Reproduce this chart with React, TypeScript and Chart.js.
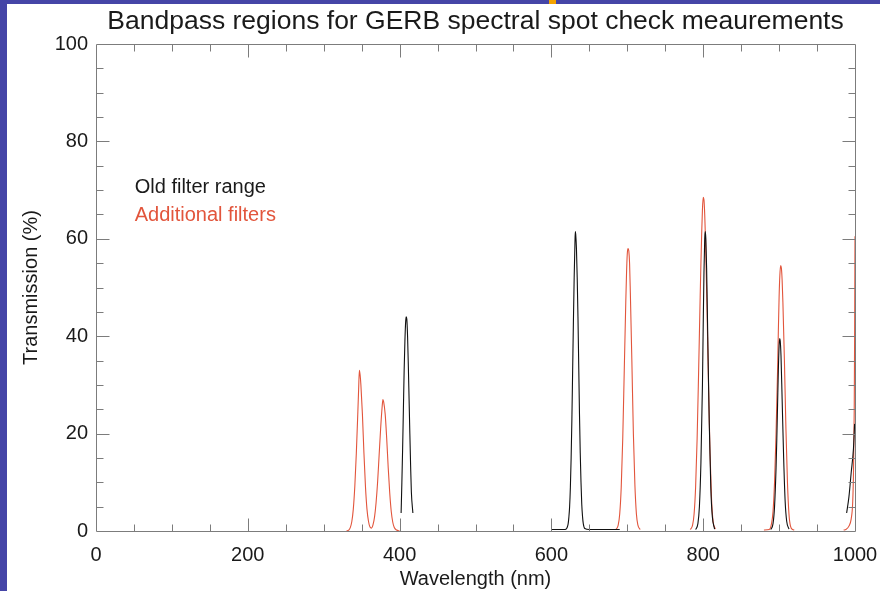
import React, { useEffect, useRef } from "react";
import { Chart, registerables } from "chart.js";

Chart.register(...registerables);

const TITLE = "Bandpass regions for GERB spectral spot check meaurements";
const X_TITLE = "Wavelength (nm)";
const Y_TITLE = "Transmission (%)";
const X_TICKS = [0, 200, 400, 600, 800, 1000];
const Y_TICKS = [0, 20, 40, 60, 80, 100];
const X_MINOR_STEP = 50;
const Y_MINOR_STEP = 5;
const LEGEND_OLD = "Old filter range";
const LEGEND_ADD = "Additional filters";
const LEGEND_X = 51;
const LEGEND_OLD_Y = 70.6;
const LEGEND_ADD_Y = 64.7;

// ---- Old filter range (black) ----
const old410X = [402, 403, 404, 405, 406, 407, 408, 408.7, 409.5, 410.5, 411.5, 412.5, 413.5, 414.5, 415.5, 417.5];
const old410Y = [3.7, 10, 17, 25, 33, 39, 43, 44, 43.5, 40, 34, 27, 20, 13.5, 8, 3.7];

const old630X = [600, 618, 620, 622, 623, 624, 625, 626, 627, 628, 629, 630, 631, 631.5, 632, 633, 634, 635, 636, 637, 638, 639, 640, 641, 642, 644, 650, 690];
const old630Y = [0.3, 0.3, 0.5, 1.4, 2.8, 5, 9, 15, 23, 33, 43, 52, 59, 61.5, 61, 58, 52, 44, 34, 24, 16, 10, 5.5, 3, 1.5, 0.5, 0.3, 0.3];

const old800X = [790, 793, 795, 797, 799, 800, 801, 802, 802.7, 803.5, 804.5, 806, 808, 810, 812, 815];
const old800Y = [0.3, 1.5, 5, 14, 30, 42, 53, 60, 61.5, 60, 54, 40, 22, 9, 3, 0.4];

const old900X = [889, 892, 894, 896, 897, 898, 899, 900, 900.8, 901.5, 902.5, 904, 906, 908, 910, 913];
const old900Y = [0.3, 1.5, 5, 13, 19, 26, 33, 38, 39.5, 39, 36, 27, 15, 6, 2, 0.4];

const old1000X = [989, 992, 995, 998, 999.5];
const old1000Y = [3.7, 7, 12, 17, 22];

// ---- Additional filters (red) ----
const add350X = [330, 333, 335, 337, 339, 341, 343, 345, 346, 347, 348, 349, 351, 353, 355, 357, 359, 361, 363, 365, 367, 369, 371, 373, 375, 377, 378, 379, 381, 383, 385, 387, 389, 391, 393, 396, 400];
const add350Y = [0, 0.2, 0.7, 1.9, 4.5, 9.2, 16, 24.5, 29, 33, 32, 30, 24, 16, 9.2, 4.5, 2, 0.8, 0.6, 1.3, 2.9, 5.8, 10, 15.5, 21, 25.5, 27, 26.5, 24, 19, 13, 7.8, 4, 1.8, 0.7, 0.2, 0];

const add700X = [685, 688, 690, 692, 694, 696, 698, 699, 700, 701, 702, 703, 704, 706, 708, 710, 712, 714, 717];
const add700Y = [0.3, 1.2, 3.5, 9, 19, 33, 47, 53, 57, 58, 57.5, 55, 49, 35, 20, 9.5, 3.5, 1.2, 0.3];

const add800X = [783, 786, 788, 790, 792, 794, 796, 797, 798, 799, 800, 801, 802, 803, 805, 807, 809, 811, 813, 816];
const add800Y = [0.3, 1.2, 3.5, 9, 19, 33, 48, 55, 61, 66, 68.5, 68, 65, 60, 46, 30, 16, 6.5, 2, 0.4];

const add900X = [880, 887, 890, 892, 894, 896, 898, 899, 900, 901, 902, 903, 904, 905, 907, 909, 911, 913, 915, 918, 920];
const add900Y = [0.2, 0.3, 1.5, 4, 10, 20, 33, 41, 48, 52.5, 54.5, 54, 51.5, 47, 35, 21, 10, 3.5, 1, 0.3, 0.2];

const add1000X = [985, 988, 992, 995, 997, 998, 999, 999.5, 1000];
const add1000Y = [0.2, 0.3, 1, 2.5, 6, 12, 25, 40, 60.5];

const BLACK = "#111111";
const RED = "#e2553c";
const AXIS_COLOR = "#7c7c7c";
const TEXT_COLOR = "#1a1a1a";
const FONT = "'Liberation Sans', Arial, Helvetica, sans-serif";

const pts = (xs: number[], ys: number[]) => xs.map((x, i) => ({ x, y: ys[i] }));

const line = (xs: number[], ys: number[], color: string) => ({
  data: pts(xs, ys),
  borderColor: color,
  backgroundColor: color,
  borderWidth: 1.1,
  pointRadius: 0,
  fill: false,
  cubicInterpolationMode: "monotone" as const,
});

const boxPlugin = {
  id: "idlBox",
  afterDatasetsDraw(chart: any) {
    const { ctx, chartArea: a, scales } = chart;
    const x = scales.x;
    const y = scales.y;
    ctx.save();
    ctx.strokeStyle = AXIS_COLOR;
    ctx.lineWidth = 1;
    const L = Math.round(a.left) + 0.5;
    const R = Math.round(a.right) + 0.5;
    const T = Math.round(a.top) + 0.5;
    const B = Math.round(a.bottom) + 0.5;
    ctx.beginPath();
    ctx.rect(L, T, R - L, B - T);
    ctx.stroke();
    ctx.beginPath();
    for (let v = x.min + X_MINOR_STEP; v < x.max; v += X_MINOR_STEP) {
      const len = X_TICKS.includes(v) ? 13 : 7;
      const px = Math.round(x.getPixelForValue(v)) + 0.5;
      ctx.moveTo(px, B);
      ctx.lineTo(px, B - len);
      ctx.moveTo(px, T);
      ctx.lineTo(px, T + len);
    }
    for (let v = y.min + Y_MINOR_STEP; v < y.max; v += Y_MINOR_STEP) {
      const len = Y_TICKS.includes(v) ? 13 : 7;
      const py = Math.round(y.getPixelForValue(v)) + 0.5;
      ctx.moveTo(L, py);
      ctx.lineTo(L + len, py);
      ctx.moveTo(R, py);
      ctx.lineTo(R - len, py);
    }
    ctx.stroke();
    ctx.restore();
  },
  afterDraw(chart: any) {
    const { ctx, scales } = chart;
    const x = scales.x;
    const y = scales.y;
    ctx.save();
    ctx.font = `20px ${FONT}`;
    ctx.textBaseline = "middle";
    ctx.textAlign = "left";
    ctx.fillStyle = TEXT_COLOR;
    ctx.fillText(LEGEND_OLD, x.getPixelForValue(LEGEND_X), y.getPixelForValue(LEGEND_OLD_Y));
    ctx.fillStyle = RED;
    ctx.fillText(LEGEND_ADD, x.getPixelForValue(LEGEND_X), y.getPixelForValue(LEGEND_ADD_Y));
    ctx.restore();
  },
};

export default function App() {
  const ref = useRef<HTMLCanvasElement | null>(null);

  useEffect(() => {
    if (!ref.current) return;
    const chart = new Chart(ref.current, {
      type: "line",
      data: {
        datasets: [
          line(old410X, old410Y, BLACK),
          line(old630X, old630Y, BLACK),
          line(old800X, old800Y, BLACK),
          line(old900X, old900Y, BLACK),
          line(old1000X, old1000Y, BLACK),
          line(add350X, add350Y, RED),
          line(add700X, add700Y, RED),
          line(add800X, add800Y, RED),
          line(add900X, add900Y, RED),
          line(add1000X, add1000Y, RED),
        ],
      },
      options: {
        animation: false,
        responsive: false,
        devicePixelRatio: 1,
        layout: { padding: { left: 0, right: 0, top: 0, bottom: 0 } },
        plugins: {
          legend: { display: false },
          tooltip: { enabled: false },
          title: {
            display: true,
            text: TITLE,
            fullSize: false,
            color: TEXT_COLOR,
            font: { family: FONT, size: 26.5, weight: "normal" },
            padding: { top: 2, bottom: 6.2 },
          },
        },
        scales: {
          x: {
            type: "linear",
            min: 0,
            max: 1000,
            afterBuildTicks: (s: any) => {
              s.ticks = X_TICKS.map((v) => ({ value: v }));
            },
            afterFit: (s: any) => {
              s.height = 60;
              s.paddingRight = 25;
              s.paddingLeft = 0;
            },
            ticks: {
              color: TEXT_COLOR,
              font: { family: FONT, size: 20 },
              padding: 12,
              maxRotation: 0,
              autoSkip: false,
              callback: (v: any) => String(v),
            },
            grid: { display: false, drawTicks: false },
            border: { display: false },
            title: { display: true, text: X_TITLE, color: TEXT_COLOR, font: { family: FONT, size: 20 }, padding: { top: 0, bottom: 0 } },
          },
          y: {
            type: "linear",
            min: 0,
            max: 100,
            afterBuildTicks: (s: any) => {
              s.ticks = Y_TICKS.map((v) => ({ value: v }));
            },
            afterFit: (s: any) => {
              s.width = 89;
            },
            ticks: { color: TEXT_COLOR, font: { family: FONT, size: 20 }, padding: 8, autoSkip: false, callback: (v: any) => String(v) },
            grid: { display: false, drawTicks: false },
            border: { display: false },
            title: { display: true, text: Y_TITLE, color: TEXT_COLOR, font: { family: FONT, size: 20 }, padding: { top: 12, bottom: 0 } },
          },
        },
      },
      plugins: [boxPlugin],
    } as any);
    return () => chart.destroy();
  }, []);

  return (
    <div style={{ position: "fixed", left: 0, top: 0, width: 880, height: 591, background: "#4545a7", overflow: "hidden" }}>
      <div style={{ position: "absolute", left: 549, top: 0, width: 7, height: 6, background: "#f5a300" }} />
      <div style={{ position: "absolute", left: 7, top: 4, width: 873, height: 587, background: "#ffffff" }}>
        <canvas ref={ref} width={873} height={587} style={{ display: "block", width: 873, height: 587 }} />
      </div>
    </div>
  );
}
